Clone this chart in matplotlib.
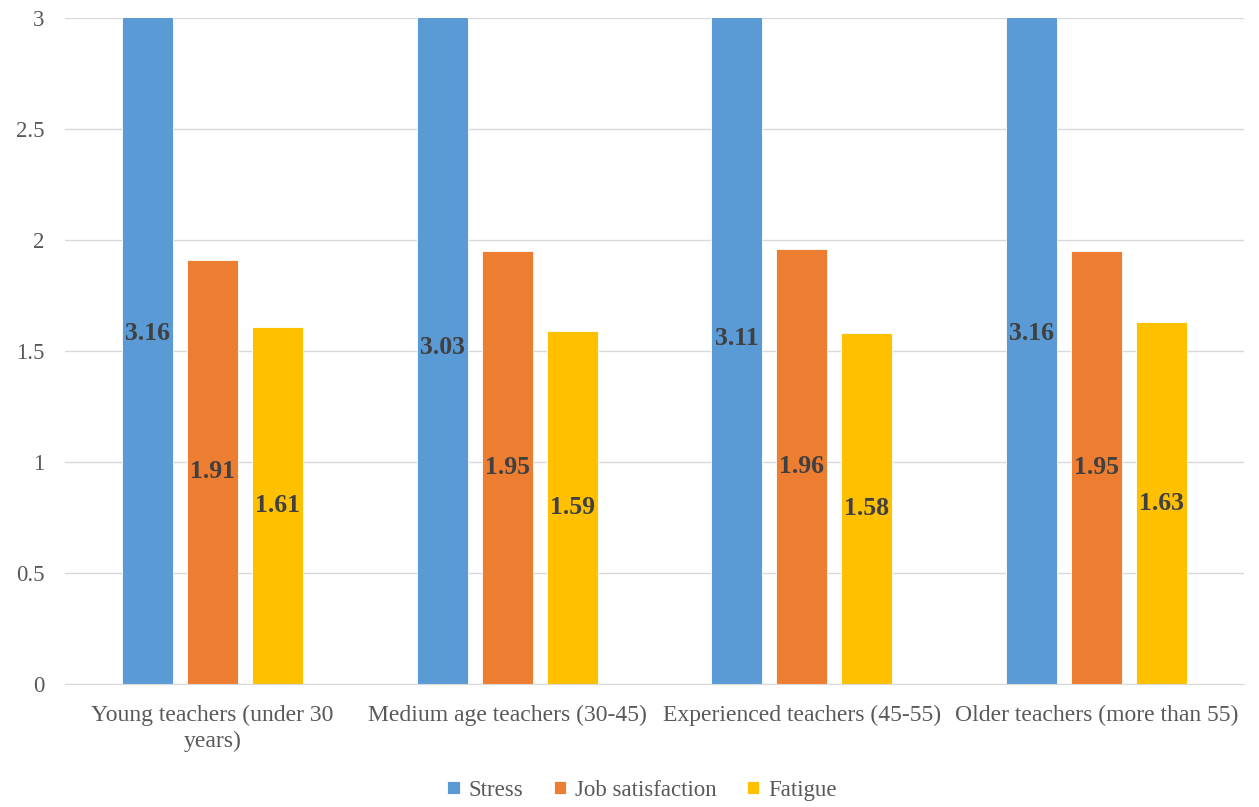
import numpy as np
import matplotlib.pyplot as plt

groups = ["Young teachers (under 30\nyears)", "Medium age teachers (30-45)",
          "Experienced teachers (45-55)", "Older teachers (more than 55)"]
series = ["Stress", "Job satisfaction", "Fatigue"]
stress = [3.16, 3.03, 3.11, 3.16]
job_satisfaction = [1.91, 1.95, 1.96, 1.95]
fatigue = [1.61, 1.59, 1.58, 1.63]
colors = ["#5b9bd5", "#ed7d31", "#ffc000"]

plt.rcParams["font.family"] = "Liberation Serif"

fig = plt.figure(figsize=(12.59, 8.07), dpi=100)
ax = fig.add_axes([0.0516, 0.1524, 0.9365, 0.8253])

x = np.arange(len(groups))
width = 0.173
step = 0.2205
for i, (name, vals) in enumerate(zip(series, [stress, job_satisfaction, fatigue])):
    pos = x + (i - 1) * step
    ax.bar(pos, vals, width, color=colors[i], edgecolor="white", linewidth=0.6,
           label=name, zorder=2)
    for p, v in zip(pos, vals):
        ax.text(p, v / 2, f"{v:.2f}", ha="center", va="center", fontsize=18.5,
                fontweight="bold", color="#404040", zorder=3)

ax.set_ylim(0, 3)
ax.set_xlim(-0.5, len(groups) - 0.5)
ax.set_yticks(np.arange(0, 3.01, 0.5))
ax.set_yticklabels(["0", "0.5", "1", "1.5", "2", "2.5", "3"])
ax.set_xticks(x)
ax.set_xticklabels(groups, fontsize=17, color="#595959", linespacing=1.3)
ax.tick_params(axis="y", labelsize=16.5, labelcolor="#595959", length=0, pad=15)
ax.tick_params(axis="x", length=0, pad=15)
ax.grid(axis="y", color="#d9d9d9", linewidth=1, zorder=0)
for s in ["top", "right", "left"]:
    ax.spines[s].set_visible(False)
ax.spines["bottom"].set_color("#d9d9d9")

fig.legend(loc="center", bbox_to_anchor=(0.51, 0.021), ncol=3, frameon=False,
           fontsize=16.5, labelcolor="#595959", handlelength=0.55, handleheight=0.55,
           handletextpad=0.4, columnspacing=1.3)

plt.savefig("out.png", dpi=100)
